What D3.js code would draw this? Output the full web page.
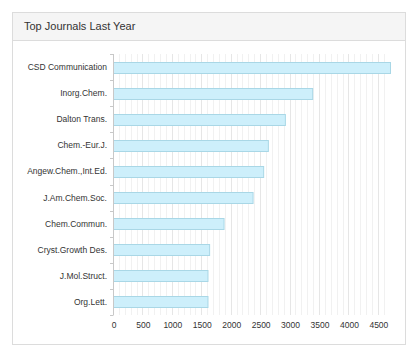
<!DOCTYPE html>
<html><head><meta charset="utf-8">
<script src="https://cdn.jsdelivr.net/npm/d3@7"></script>
<style>
html,body{margin:0;padding:0;background:#fff;}
svg{display:block;font-family:"Liberation Sans",Arial,sans-serif;}
</style></head>
<body>
<svg id="c" width="415" height="353"></svg>
<script>
const title = "Top Journals Last Year";
const journals = ["CSD Communication","Inorg.Chem.","Dalton Trans.","Chem.-Eur.J.","Angew.Chem.,Int.Ed.","J.Am.Chem.Soc.","Chem.Commun.","Cryst.Growth Des.","J.Mol.Struct.","Org.Lett."];
const counts = [4706,3384,2920,2631,2551,2371,1878,1633,1605,1605];
const xTicks = [0,500,1000,1500,2000,2500,3000,3500,4000,4500];

(function(){
const svg = d3.select("#c");
// panel
svg.append("rect").attr("x",12.5).attr("y",12.5).attr("width",393).attr("height",332)
  .attr("fill","#fff").attr("stroke","#dcdcdc");
svg.append("rect").attr("x",13).attr("y",13).attr("width",392).attr("height",27).attr("fill","#f5f5f5");
svg.append("line").attr("x1",13).attr("x2",405).attr("y1",40.5).attr("y2",40.5).attr("stroke","#dcdcdc");
svg.append("text").attr("x",24).attr("y",30).attr("font-size",11).attr("fill","#333").text(title);

const pl = 113, pr = 390, pt = 54, pb = 315;
const x = d3.scaleLinear().domain([0, 4706]).range([pl, pr]);
const y = d3.scaleBand().domain(journals).range([pt, pb]).paddingInner(0.58).paddingOuter(0.29);

// grid
const g = svg.append("g");
const minor = x.ticks(47).filter(v => v > 0 && v <= 4650);
g.selectAll("line.m").data(minor).enter().append("line")
  .attr("x1", d => Math.round(x(d)) + 0.5).attr("x2", d => Math.round(x(d)) + 0.5)
  .attr("y1", pt).attr("y2", pb)
  .attr("stroke", d => d % 500 === 0 ? "#e6e6e6" : "#f1f1f1").attr("stroke-width",1);

// bars
svg.selectAll("rect.bar").data(journals).enter().append("rect")
  .attr("x", x(0) + 0.5).attr("y", d => Math.round(y(d)) + 0.5)
  .attr("width", (d,i) => x(counts[i]) - x(0)).attr("height", Math.round(y.bandwidth()))
  .attr("fill","#cdeffb").attr("stroke","#a9d7e6").attr("stroke-width",1);

// y axis
const yb = d3.scaleBand().domain(journals).range([pt, pb]);
const ya = svg.append("g");
ya.append("line").attr("x1",pl+0.5).attr("x2",pl+0.5).attr("y1",pt).attr("y2",pb).attr("stroke","#c8c8c8");
const bounds = journals.map(d => yb(d)).concat([pb]);
ya.selectAll("line.t").data(bounds).enter().append("line")
  .attr("x1",pl-3).attr("x2",pl+0.5).attr("y1",d=>Math.round(d)+0.5).attr("y2",d=>Math.round(d)+0.5).attr("stroke","#c8c8c8");
ya.selectAll("text").data(journals).enter().append("text")
  .attr("x",107).attr("y",d => yb(d) + yb.bandwidth()/2 + 3)
  .attr("text-anchor","end").attr("font-size",8.5).attr("fill","#333").text(d=>d);

// x labels
svg.append("g").selectAll("text").data(xTicks).enter().append("text")
  .attr("x", d => x(d) + 1).attr("y", 328).attr("text-anchor","middle")
  .attr("font-size",8.5).attr("fill","#333").text(d => d);
})();
</script>
</body></html>
